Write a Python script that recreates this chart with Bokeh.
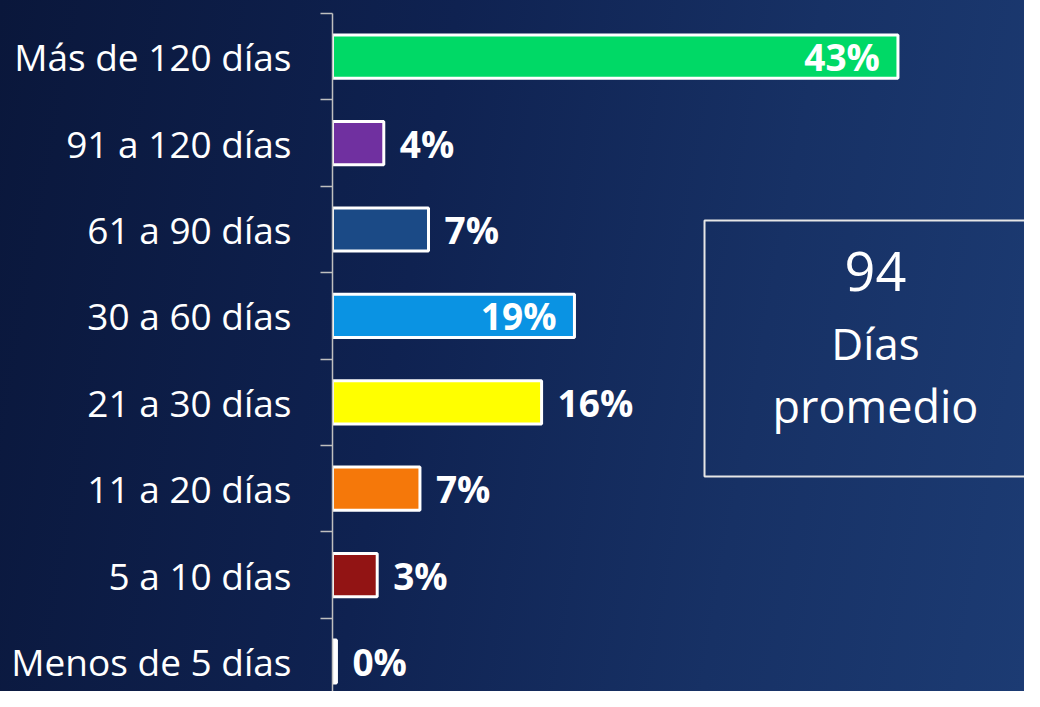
from bokeh.plotting import figure
from bokeh.models import ColumnDataSource, Range1d, FixedTicker, Label
from bokeh.core.properties import value
from bokeh.embed import file_html
from bokeh.resources import INLINE

# ---- data (bottom to top) ----
categories = ["Menos de 5 días", "5 a 10 días", "11 a 20 días", "21 a 30 días",
              "30 a 60 días", "61 a 90 días", "91 a 120 días", "Más de 120 días"]
shares = [0.3, 3.4, 6.65, 15.9, 18.4, 7.3, 3.9, 43.0]
share_labels = ["0%", "3%", "7%", "16%", "19%", "7%", "4%", "43%"]
bar_colors = ["#ffffff", "#921414", "#f5780a", "#ffff00", "#0a93e3", "#1b4a86", "#7030a0", "#00d966"]
avg_days = "94"
avg_caption = ["Días", "promedio"]

FONT = "Open Sans"
n = len(categories)
pos = [i + 0.5 for i in range(n)]
inside = [s > 17 for s in shares]

src = ColumnDataSource(dict(
    y=pos, right=shares, color=bar_colors, label=share_labels,
    align=["right" if i else "left" for i in inside],
    xoff=[-18 if i else 16 for i in inside],
))

PX_PER_PCT = 13.15
PX_PER_ROW = 86.4
p = figure(width=1024, height=691, output_backend="svg", toolbar_location=None,
           x_range=Range1d(0, 692 / PX_PER_PCT), y_range=Range1d(n - 678 / PX_PER_ROW, n),
           min_border_left=332, min_border_right=0, min_border_top=13, min_border_bottom=0,
           border_fill_color=None, background_fill_color=None, outline_line_color=None,
           styles={"background": "linear-gradient(100deg, #0a173b 0%, #0f2251 40%, #173165 72%, #1c3b73 100%)"})

p.xaxis.visible = False
p.xgrid.visible = False
p.ygrid.visible = False

ax = p.yaxis[0]
ax.ticker = FixedTicker(ticks=pos, minor_ticks=list(range(n + 1)))
ax.major_label_overrides = {pv: c for pv, c in zip(pos, categories)}
ax.major_tick_line_color = None
ax.major_tick_out = 0
ax.major_tick_in = 0
ax.minor_tick_out = 12
ax.minor_tick_in = 0
ax.minor_tick_line_color = "#bfbfbf"
ax.minor_tick_line_width = 1.5
ax.axis_line_color = "#bfbfbf"
ax.axis_line_width = 1.5
ax.major_label_text_color = "white"
ax.major_label_text_font = FONT
ax.major_label_text_font_size = "37px"
ax.major_label_standoff = 29

p.hbar(y="y", left=0, right="right", height=0.5, fill_color="color",
       line_color="white", line_width=3, source=src)

p.text(x="right", y="y", text="label", text_align="align", x_offset="xoff",
       text_baseline="middle", text_color="white", text_font=value(FONT),
       text_font_size="37px", text_font_style="bold", source=src)

# average box
p.quad(left=28.29, right=60, bottom=2.641, top=5.604, fill_color=None,
       line_color="#e6e6e6", line_width=2)
p.add_layout(Label(x=41.29, y=5.01, text=avg_days, text_align="center", text_baseline="middle",
                   text_color="white", text_font=FONT, text_font_size="54px"))
p.add_layout(Label(x=41.29, y=4.19, text=avg_caption[0], text_align="center", text_baseline="middle",
                   text_color="white", text_font=FONT, text_font_size="44px"))
p.add_layout(Label(x=41.29, y=3.46, text=avg_caption[1], text_align="center", text_baseline="middle",
                   text_color="white", text_font=FONT, text_font_size="45px"))

open("out.html", "w").write(file_html(p, INLINE))
